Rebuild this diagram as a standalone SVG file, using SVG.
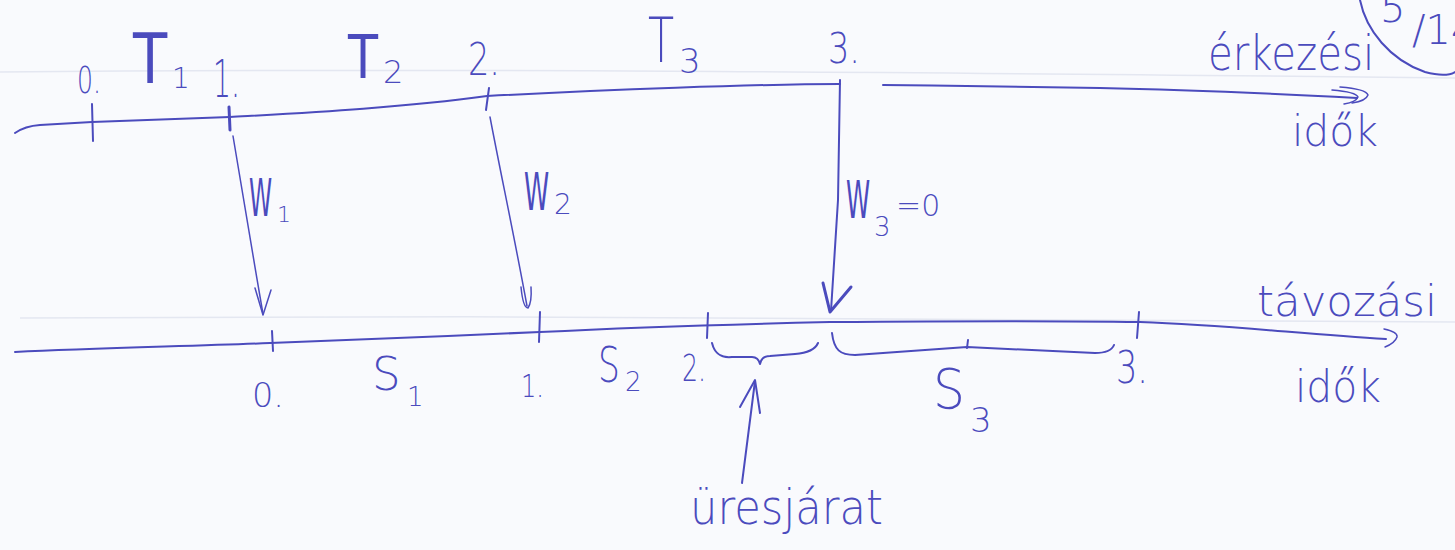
<svg xmlns="http://www.w3.org/2000/svg" width="1455" height="550" viewBox="0 0 1455 550">
<style>
.ink{fill:none;stroke:#4b4bbd;stroke-width:2;stroke-linecap:round;stroke-linejoin:round}
.thin{stroke-width:1.5}
.bold{stroke-width:3}
.faint{fill:none;stroke:#e4e7f1;stroke-width:1.5}
.t{font-family:"DejaVu Sans","Liberation Sans",Arial,sans-serif;font-weight:200;fill:#4b4bbd}
.tb{font-family:"DejaVu Sans","Liberation Sans",Arial,sans-serif;font-weight:400;fill:#4b4bbd}
</style>
<rect width="1455" height="550" fill="#f9fafd"/>
<g id="paper">
<path class="faint" d="M0,72 C400,68 900,72 1455,78"/>
<path class="faint" d="M20,318 C500,315 1000,318 1455,322"/>
</g>
<g id="arrival-axis">
<path class="ink" d="M15,133 Q25,126 40,125 L92,122 L230,117 C300,113 400,108 487,96 C600,90 760,84 840,84"/>
<path class="ink" d="M883,85 C950,86 1000,86 1100,88 C1200,90 1300,95 1357,98"/>
<path class="ink thin" d="M1340,87 Q1366,89 1368,95 Q1366,101 1352,103"/>
<path class="ink thin" d="M1332,90 Q1356,92 1358,97 Q1356,102 1344,104"/>
<text class="t" transform="translate(1208,70) scale(0.84,1)" font-size="48">érkezési</text>
<text class="t" x="1292" y="146" font-size="42" textLength="86" lengthAdjust="spacingAndGlyphs">idők</text>
</g>
<g id="arrival-0">
<path class="ink" d="M92,104 L93,141"/>
<text class="t" x="77" y="93" font-size="38" textLength="24" lengthAdjust="spacingAndGlyphs">0.</text>
</g>
<g id="T1">
<text class="tb" transform="translate(133,83) scale(0.8,1)" font-size="70">T</text>
<text class="t" x="172" y="88" font-size="28">1</text>
</g>
<g id="arrival-1">
<path class="ink bold" d="M229,107 L230,130"/>
<text class="t" x="213" y="97" font-size="52" textLength="27" lengthAdjust="spacingAndGlyphs">1.</text>
</g>
<g id="T2">
<text class="tb" transform="translate(348,78) scale(0.82,1)" font-size="60">T</text>
<text class="t" x="383" y="83" font-size="32">2</text>
</g>
<g id="arrival-2">
<path class="ink" d="M489,88 L486,110"/>
<text class="t" x="468" y="75" font-size="45" textLength="32" lengthAdjust="spacingAndGlyphs">2.</text>
</g>
<g id="T3">
<text class="t" transform="translate(648,62) scale(0.69,1)" font-size="62">T</text>
<text class="t" x="679" y="73" font-size="34">3</text>
</g>
<g id="arrival-3">
<text class="t" x="828" y="63" font-size="42" textLength="32" lengthAdjust="spacingAndGlyphs">3.</text>
</g>
<g id="page-mark">
<path class="ink" d="M1360,0 C1366,30 1390,60 1425,72 C1440,76 1450,75 1455,72"/>
<text class="t" font-size="40"><tspan x="1380" y="22">5</tspan><tspan x="1412" y="44">/14</tspan></text>
</g>
<g id="departure-axis">
<path class="ink" d="M15,352 C100,348 200,346 270,343 C350,340 450,336 540,332 C620,328 700,325 830,322 C950,321 1080,321 1140,322 C1230,325 1300,334 1386,339"/>
<path class="ink thin" d="M1384,329 Q1398,332 1397,337 Q1395,343 1385,347"/>
<text class="t" x="1257" y="316" font-size="42" textLength="180" lengthAdjust="spacingAndGlyphs">távozási</text>
<text class="t" x="1295" y="402" font-size="44" textLength="86" lengthAdjust="spacingAndGlyphs">idők</text>
</g>
<g id="departure-0">
<path class="ink" d="M272,331 L273,351"/>
<text class="t" x="252" y="407" font-size="34" textLength="32" lengthAdjust="spacingAndGlyphs">0.</text>
</g>
<g id="S1">
<text class="t" transform="translate(372,390) scale(0.98,1)" font-size="46">S</text>
<text class="t" x="407" y="406" font-size="26">1</text>
</g>
<g id="departure-1">
<path class="ink" d="M540,312 L539,342"/>
<text class="t" x="521" y="397" font-size="32" textLength="23" lengthAdjust="spacingAndGlyphs">1.</text>
</g>
<g id="S2">
<text class="t" transform="translate(598,382) scale(0.69,1)" font-size="50">S</text>
<text class="t" x="625" y="391" font-size="26">2</text>
</g>
<g id="departure-2">
<path class="ink" d="M708,313 L707,338"/>
<text class="t" x="682" y="381" font-size="38" textLength="24" lengthAdjust="spacingAndGlyphs">2.</text>
</g>
<g id="idle-brace">
<path class="ink" d="M712,343 C715,355 722,358 732,357 L752,357 C757,357 759,360 760,364 C761,359 764,356 770,356 L795,354 C808,353 815,350 818,343"/>
</g>
<g id="S3-brace">
<path class="ink" d="M832,333 C834,350 840,355 855,355 L967,347 L1095,353 C1105,353 1112,350 1114,345"/>
<path class="ink" d="M967,348 L968,340"/>
<text class="t" transform="translate(933,408) scale(0.9,1)" font-size="56">S</text>
<text class="t" x="970" y="432" font-size="34">3</text>
</g>
<g id="departure-3">
<path class="ink" d="M1139,312 L1137,338"/>
<text class="t" x="1116" y="383" font-size="44" textLength="32" lengthAdjust="spacingAndGlyphs">3.</text>
</g>
<g id="idle-label">
<text class="t" x="690" y="524" font-size="48" textLength="193" lengthAdjust="spacingAndGlyphs">üresjárat</text>
</g>
<g id="connectors">
<g id="W1">
<path class="ink thin" d="M233,136 C240,180 252,250 263,314"/>
<path class="ink thin" d="M255,288 L263,315 L271,290"/>
<text class="tb" transform="translate(249,216) scale(0.45,1)" font-size="52">W</text>
<text class="t" x="277" y="222" font-size="22">1</text>
</g>
<g id="W2">
<path class="ink thin" d="M490,117 C500,170 515,240 527,306"/>
<path class="ink thin" d="M521,287 Q523,308 528,308 Q532,302 531,287"/>
<text class="tb" transform="translate(524,210) scale(0.49,1)" font-size="52">W</text>
<text class="t" x="554" y="214" font-size="28">2</text>
</g>
<g id="W3">
<path class="ink" d="M840,80 L838,200 L831,311"/>
<path class="ink bold" d="M823,283 L830,312 L851,287"/>
<text class="tb" transform="translate(846,218) scale(0.47,1)" font-size="52">W</text>
<text class="t" x="874" y="236" font-size="26">3</text>
<text class="t" x="896" y="216" font-size="30">=0</text>
</g>
<g id="idle-arrow">
<path class="ink" d="M742,483 L755,381"/>
<path class="ink" d="M740,407 L755,380 L760,413"/>
</g>
</g>
</svg>
